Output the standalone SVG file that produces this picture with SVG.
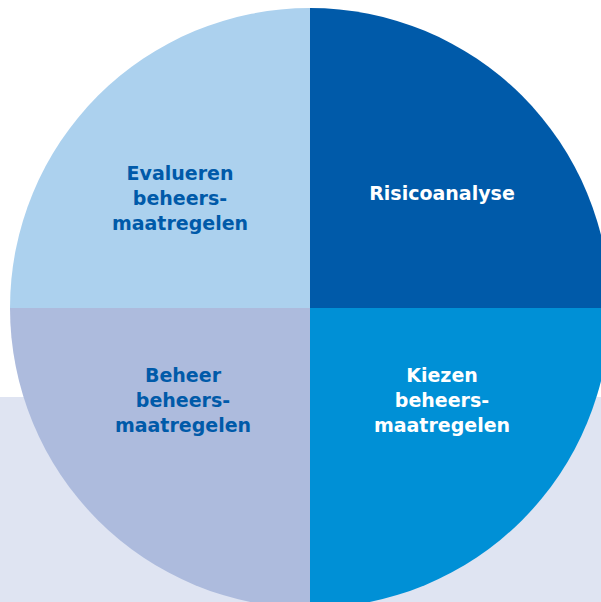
<svg xmlns="http://www.w3.org/2000/svg" width="601" height="602" viewBox="0 0 601 602">
<style>
.lbl{font-family:"DejaVu Sans","Liberation Sans",sans-serif;font-weight:bold;font-size:19px;text-anchor:middle}
.dk{fill:#005aa9}
.wt{fill:#ffffff}
</style>
<rect x="0" y="0" width="601" height="602" fill="#ffffff"/>
<rect x="0" y="397" width="601" height="205" fill="#dfe4f2"/>
<g id="evalueren">
<path d="M310 308 L10 308 A300 300 0 0 1 310 8 Z" fill="#acd1ee"/>
<text class="lbl dk" x="180" y="180">Evalueren</text>
<text class="lbl dk" x="180" y="205">beheers-</text>
<text class="lbl dk" x="180" y="230">maatregelen</text>
</g>
<g id="risicoanalyse">
<path d="M310 308 L310 8 A300 300 0 0 1 610 308 Z" fill="#005aa9"/>
<text class="lbl wt" x="442" y="200">Risicoanalyse</text>
</g>
<g id="kiezen">
<path d="M310 308 L610 308 A300 300 0 0 1 310 608 Z" fill="#0090d6"/>
<text class="lbl wt" x="442" y="382">Kiezen</text>
<text class="lbl wt" x="442" y="407">beheers-</text>
<text class="lbl wt" x="442" y="432">maatregelen</text>
</g>
<g id="beheer">
<path d="M310 308 L310 608 A300 300 0 0 1 10 308 Z" fill="#adbbdd"/>
<text class="lbl dk" x="183" y="382">Beheer</text>
<text class="lbl dk" x="183" y="407">beheers-</text>
<text class="lbl dk" x="183" y="432">maatregelen</text>
</g>
<g id="connectors"></g>
</svg>
